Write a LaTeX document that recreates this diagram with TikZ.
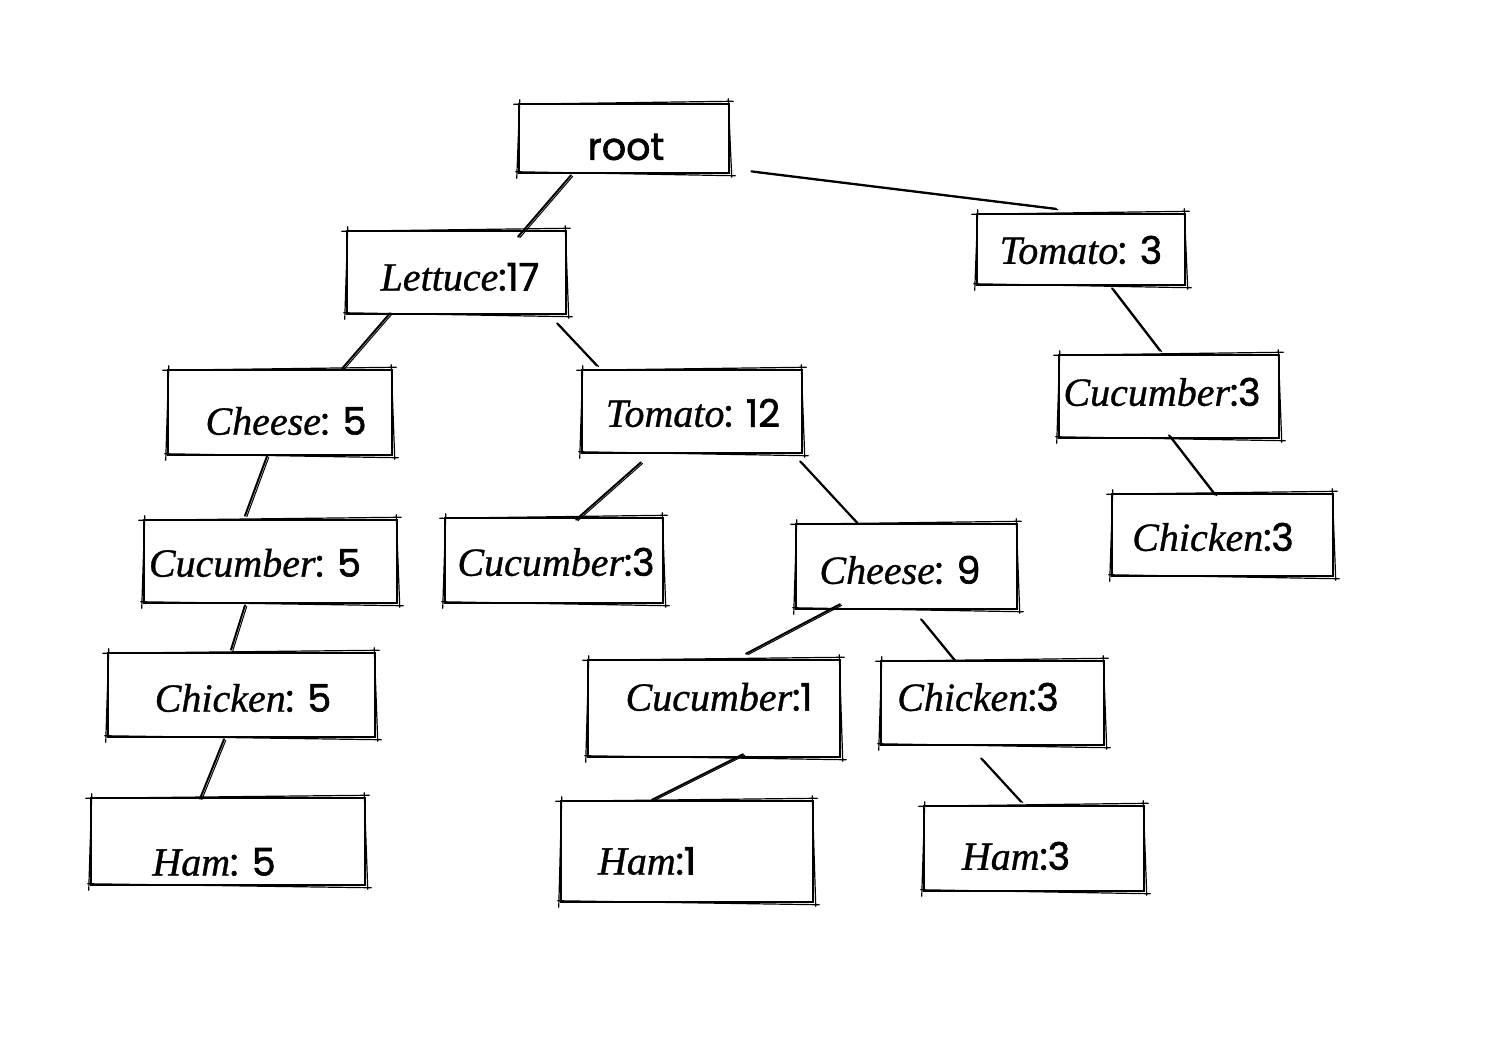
\documentclass[tikz,border=0pt]{standalone}
\usepackage{fontspec}
\setmainfont{Liberation Serif}[ItalicFeatures={FakeBold=0.8}]
\newfontfamily\hand{Poppins}[FakeBold=1.6]
\tikzset{
  bx/.style={draw, line width=1.25pt, inner sep=0pt},
  every label/.style={font=\fontsize{20}{24}\selectfont\itshape, inner sep=0pt},
  skl/.style={line width=0.6pt, line cap=round},
  cl/.style={line width=1pt, line cap=round},
  cl2/.style={line width=0.5pt, line cap=round},
}
\newcommand\hd[1]{{\hand\upshape\fontsize{19}{22}\selectfont #1}}
\newcommand\skb[1]{%
 \draw[skl] ([shift={(-4,1.5)}]#1.north west) -- ([shift={(3,-1.5)}]#1.north east);
 \draw[skl] ([shift={(-2,-2.5)}]#1.south west) -- ([shift={(5,1.5)}]#1.south east);
 \draw[skl] ([shift={(2,-3)}]#1.north west) -- ([shift={(-1,4)}]#1.south west);
 \draw[skl] ([shift={(-2,-4)}]#1.north east) -- ([shift={(1.5,3)}]#1.south east);
}
\newcommand\cn[4]{%
 \draw[cl] ([shift={(#2)}]#1) -- ([shift={(#4)}]#3);
 \draw[cl2] ([shift={(#2)},xshift=0.9pt,yshift=-0.5pt]#1) -- ([shift={(#4)},xshift=0.9pt,yshift=-0.5pt]#3);
}
\begin{document}
\begin{tikzpicture}[x=0.5pt,y=-0.5pt]
\fill[white] (0,0) rectangle (1506,1038);
\useasboundingbox (0,0) rectangle (1506,1038);
% boxes
\node[bx, minimum width=105pt, minimum height=34.5pt, label={[shift={(2,8.5)}]center:{\hd{root}}}] (root) at (624,138.5) {};
\node[bx, minimum width=109.5pt, minimum height=41.5pt, label={[shift={(3.5,4.5)}]center:{Lettuce\hd{:17}}}] (let) at (456.5,272.5) {};
\node[bx, minimum width=104pt, minimum height=35.5pt, label={[shift={(0,0.5)}]center:{Tomato\hd{: 3}}}] (tomr) at (1081,249.5) {};
\node[bx, minimum width=112pt, minimum height=42.5pt, label={[shift={(6,8.5)}]center:{Cheese\hd{: 5}}}] (chea) at (280,412.5) {};
\node[bx, minimum width=110pt, minimum height=41.5pt, label={[shift={(1,1.5)}]center:{Tomato\hd{: 12}}}] (tomm) at (692,411.5) {};
\node[bx, minimum width=110pt, minimum height=41.5pt, label={[shift={(-7,-4.5)}]center:{Cucumber\hd{:3}}}] (cucr) at (1169,396.5) {};
\node[bx, minimum width=110.5pt, minimum height=41pt, label={[shift={(-9.5,2)}]center:{Chicken\hd{:3}}}] (chir) at (1222.5,535) {};
\node[bx, minimum width=126.5pt, minimum height=41.5pt, label={[shift={(-15.5,1.5)}]center:{Cucumber\hd{: 5}}}] (cuca) at (270.5,561.5) {};
\node[bx, minimum width=109pt, minimum height=42.5pt, label={[shift={(2,1.5)}]center:{Cucumber\hd{:3}}}] (cucm) at (554,560.5) {};
\node[bx, minimum width=110.5pt, minimum height=42.5pt, label={[shift={(-6.5,3.5)}]center:{Cheese\hd{: 9}}}] (cheb) at (906.5,566.5) {};
\node[bx, minimum width=133.5pt, minimum height=42pt, label={[shift={(1.5,3)}]center:{Chicken\hd{: 5}}}] (chia) at (241.5,695) {};
\node[bx, minimum width=126pt, minimum height=48.5pt, label={[shift={(5,-11.5)}]center:{Cucumber\hd{:1}}}] (cucb) at (714,708.5) {};
\node[bx, minimum width=111.5pt, minimum height=42pt, label={[shift={(-14.5,-6)}]center:{Chicken\hd{:3}}}] (chim) at (992.5,703) {};
\node[bx, minimum width=137pt, minimum height=43.5pt, label={[shift={(-14,20.5)}]center:{Ham\hd{: 5}}}] (hama) at (228,841.5) {};
\node[bx, minimum width=126pt, minimum height=50.5pt, label={[shift={(-40,9.5)}]center:{Ham\hd{:1}}}] (hamb) at (687,851.5) {};
\node[bx, minimum width=110pt, minimum height=42.5pt, label={[shift={(-18,7.5)}]center:{Ham\hd{:3}}}] (hamc) at (1034,848.5) {};
% sketch strokes
\skb{root}\skb{let}\skb{tomr}\skb{chea}\skb{tomm}\skb{cucr}\skb{chir}\skb{cuca}
\skb{cucm}\skb{cheb}\skb{chia}\skb{cucb}\skb{chim}\skb{hama}\skb{hamb}\skb{hamc}
% connectors
\cn{root.south}{-53,1}{let.north}{61.5,7}
\cn{root.south east}{21,-3}{tomr.north}{-25,-4}
\cn{let.south}{-66.5,-2}{chea.north}{62,0}
\cn{let.south}{100.5,8}{tomm.north}{-95,-3}
\cn{tomr.south}{31,2}{cucr.north}{-9,-3}
\cn{chea.south}{-13,0}{cuca.north}{-25.5,-3}
\cn{tomm.south}{-51,8}{cucm.north}{22,3}
\cn{tomm.south}{108,7}{cheb.north}{-49.5,0}
\cn{cucr.south}{0,-4}{chir.north}{-7.5,2}
\cn{cuca.south}{-25.5,1}{chia.north}{-10.5,-2}
\cn{cheb.south}{-66.5,-6}{cucb.north}{32,-5}
\cn{cheb.south}{14.5,9}{chim.north}{-37.5,1}
\cn{chia.south}{-17.5,1}{hama.north}{-28,2}
\cn{cucb.south}{29,-4}{hamb.north}{-35,0}
\cn{chim.south}{-11.5,12}{hamc.north}{-13,-3}
\end{tikzpicture}
\end{document}
